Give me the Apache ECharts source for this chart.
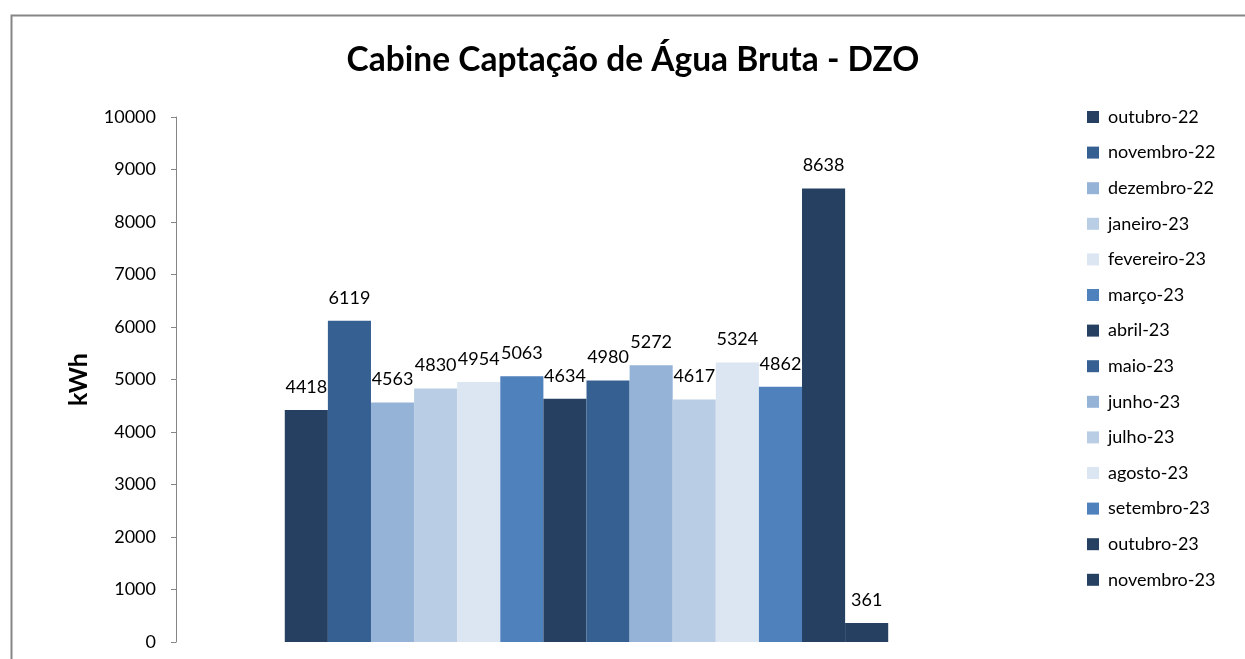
<!DOCTYPE html>
<html>
<head>
<meta charset="utf-8">
<script src="https://cdn.jsdelivr.net/npm/echarts@6/dist/echarts.min.js"></script>
<style>html,body{margin:0;padding:0;background:#fff;}#c{width:1245px;height:659px;}</style>
</head>
<body>
<div id="c"></div>
<script>
const seriesNames = ['outubro-22','novembro-22','dezembro-22','janeiro-23','fevereiro-23','março-23','abril-23','maio-23','junho-23','julho-23','agosto-23','setembro-23','outubro-23','novembro-23'];
const seriesValues = [4418, 6119, 4563, 4830, 4954, 5063, 4634, 4980, 5272, 4617, 5324, 4862, 8638, 361];
const seriesColors = ['#254061','#376092','#95B3D7','#B9CDE5','#DCE6F2','#4F81BD','#254061','#376092','#95B3D7','#B9CDE5','#DCE6F2','#4F81BD','#254061','#254061'];
const categories = [''];
const yTicks = {min: 0, max: 10000, interval: 1000};
const FONT = 'Lato, "Open Sans", sans-serif';

const chart = echarts.init(document.getElementById('c'), null, {renderer: 'canvas'});
chart.setOption({
  animation: false,
  textStyle: {fontFamily: FONT},
  title: {
    text: 'Cabine Captação de Água Bruta - DZO',
    left: 628, top: 38, textAlign: 'center',
    textStyle: {fontFamily: FONT, fontSize: 33.5, fontWeight: 'bold', color: '#000'}
  },
  graphic: [{
    type: 'rect', left: 9, top: 13, z: -1,
    shape: {width: 1300, height: 700},
    style: {fill: 'none', stroke: '#868686', lineWidth: 2}
  }],
  legend: {
    orient: 'vertical', left: 1082, top: 103,
    itemWidth: 12, itemHeight: 12, itemGap: 17.6,
    icon: 'rect',
    textStyle: {fontFamily: FONT, fontSize: 18, color: '#000', padding: [0,0,0,4]},
    data: seriesNames
  },
  grid: {left: 176, right: 248, top: 117, bottom: 17, containLabel: false},
  xAxis: {
    type: 'category', data: categories,
    axisLine: {show: false}, axisTick: {show: false}, axisLabel: {show: false}
  },
  yAxis: {
    type: 'value', min: yTicks.min, max: yTicks.max, interval: yTicks.interval,
    name: 'kWh', nameLocation: 'middle', nameGap: 85, nameRotate: 90,
    nameTextStyle: {fontFamily: FONT, fontSize: 25, fontWeight: 'bold', color: '#000'},
    axisLine: {show: true, lineStyle: {color: '#868686', width: 1}},
    axisTick: {show: true, length: 5, lineStyle: {color: '#868686'}},
    axisLabel: {fontFamily: FONT, fontSize: 18, color: '#000', margin: 20, formatter: v => String(v)},
    splitLine: {show: false}
  },
  series: seriesNames.map((n, i) => ({
    name: n, type: 'bar',
    data: [seriesValues[i]],
    barGap: '0%', barCategoryGap: '26.5%',
    itemStyle: {color: seriesColors[i]},
    label: {show: true, position: 'top', distance: 14, fontFamily: FONT, fontSize: 18, color: '#000'}
  }))
});
</script>
</body>
</html>
